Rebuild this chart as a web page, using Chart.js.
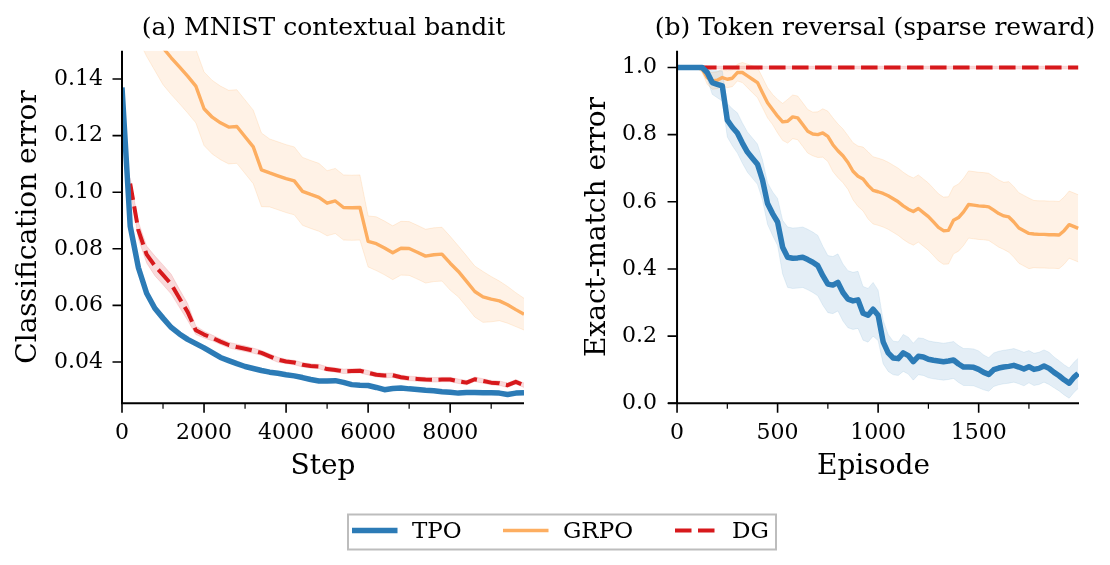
<!DOCTYPE html>
<html><head><meta charset="utf-8">
<script src="https://cdn.jsdelivr.net/npm/chart.js@4.4.1/dist/chart.umd.min.js"></script>
<style>
html,body{margin:0;padding:0;background:#fff;}
body{width:1110px;height:565px;position:relative;overflow:hidden;}
canvas{position:absolute;top:0;}
#cl{left:0;}
#cr{left:555px;}
svg{position:absolute;left:0;top:0;}
</style></head><body>
<canvas id="cl" width="560" height="500" style="width:560px;height:500px"></canvas>
<canvas id="cr" width="555" height="500" style="width:555px;height:500px"></canvas>
<svg width="1110" height="565" viewBox="0 0 1110 565">
  <rect x="348" y="514.5" width="428" height="35" fill="none" stroke="#bdbdbd" stroke-width="2"/>
  <line x1="352" y1="530.5" x2="397.5" y2="530.5" stroke="#2c7bb6" stroke-width="5.5"/>
  <text x="412" y="537.5" font-family="DejaVu Serif" font-size="23" fill="#000">TPO</text>
  <line x1="503" y1="530.5" x2="548.5" y2="530.5" stroke="#fdae61" stroke-width="3.5"/>
  <text x="563" y="537.5" font-family="DejaVu Serif" font-size="23" fill="#000">GRPO</text>
  <line x1="675" y1="530.5" x2="715" y2="530.5" stroke="#d7191c" stroke-width="4" stroke-dasharray="16.5 6.5"/>
  <text x="732" y="537.5" font-family="DejaVu Serif" font-size="23" fill="#000">DG</text>
</svg>
<script>
// ---------------- data: (a) MNIST contextual bandit ----------------
const leftSteps = [0,200,400,600,800,1000,1200,1400,1600,1800,
  2000,2200,2400,2600,2800,3000,3200,3400,3600,3800,
  4000,4200,4400,4600,4800,5000,5200,5400,5600,5800,
  6000,6200,6400,6600,6800,7000,7200,7400,7600,7800,
  8000,8200,8400,8600,8800,9000,9200,9400,9600,9800];
const leftTPO = [0.137,0.088,0.0733,0.0643,0.059,0.0555,0.0522,0.0499,0.048,0.0465,
  0.045,0.0433,0.0416,0.0405,0.0394,0.0384,0.0377,0.037,0.0364,0.036,
  0.0355,0.0351,0.0345,0.0338,0.0333,0.0333,0.0334,0.0328,0.032,0.0318,
  0.0317,0.031,0.0302,0.0306,0.0308,0.0305,0.0303,0.03,0.0298,0.0295,
  0.0293,0.029,0.0292,0.0292,0.0291,0.0291,0.029,0.0285,0.029,0.0291];
const leftTPOsd = [0.001,0.001,0.001,0.0008,0.0008,0.0007,0.0007,0.0007,0.0006,0.0006,
  0.0006,0.0006,0.0006,0.0006,0.0006,0.0006,0.0006,0.0006,0.0006,0.0006,
  0.0006,0.0006,0.0006,0.0006,0.0006,0.0006,0.0006,0.0006,0.0006,0.0006,
  0.0006,0.0006,0.0006,0.0006,0.0006,0.0006,0.0006,0.0006,0.0006,0.0006,
  0.0006,0.0006,0.0006,0.0006,0.0006,0.0006,0.0006,0.0006,0.0006,0.0006];
const leftGRPO = [0.178,0.173,0.167,0.161,0.156,0.151,0.1475,0.1443,0.141,0.1375,
  0.1295,0.1265,0.1245,0.123,0.1232,0.1196,0.116,0.1079,0.1068,0.1058,
  0.1048,0.104,0.1003,0.0992,0.0982,0.0961,0.0969,0.0946,0.0945,0.0946,
  0.0826,0.0818,0.0803,0.0786,0.0802,0.0801,0.0788,0.0774,0.0779,0.0781,
  0.0749,0.072,0.0685,0.0649,0.063,0.0622,0.0616,0.0602,0.0585,0.0569];
const leftGRPOsd = [0.013,0.013,0.013,0.013,0.013,0.013,0.013,0.013,0.013,0.013,
  0.013,0.013,0.013,0.013,0.013,0.013,0.013,0.013,0.012,0.012,
  0.012,0.012,0.012,0.012,0.012,0.0115,0.0115,0.0115,0.0115,0.0115,
  0.009,0.0095,0.0095,0.0095,0.0095,0.0095,0.0095,0.0095,0.0095,0.0095,
  0.0095,0.009,0.009,0.009,0.009,0.008,0.007,0.0065,0.006,0.0056];
const leftDG = [null,0.103,0.0865,0.078,0.074,0.0708,0.0675,0.0625,0.0577,0.0512,
  0.0497,0.0485,0.0472,0.046,0.0453,0.0447,0.044,0.0432,0.042,0.0408,
  0.0402,0.0398,0.039,0.0386,0.0384,0.0375,0.0372,0.0367,0.0368,0.0369,
  0.0362,0.0355,0.0352,0.0353,0.0346,0.0342,0.034,0.0338,0.0337,0.0338,
  0.0338,0.0332,0.0327,0.0339,0.0333,0.0327,0.0325,0.0318,0.033,0.0318];
const leftDGsd = [0,0.002,0.003,0.003,0.0035,0.0035,0.0035,0.0032,0.003,0.0015,
  0.0012,0.001,0.001,0.001,0.001,0.001,0.0009,0.0009,0.0009,0.0009,
  0.0008,0.0008,0.0008,0.0008,0.0008,0.0008,0.0008,0.0008,0.0008,0.0008,
  0.0008,0.0008,0.0008,0.0008,0.0008,0.0008,0.0008,0.0008,0.0008,0.0008,
  0.0008,0.0008,0.0008,0.0008,0.0008,0.0008,0.0008,0.0008,0.0008,0.0008];
const leftXTicks = [0,2000,4000,6000,8000];
const leftXTickLabels = ['0','2000','4000','6000','8000'];
const leftXMinor = [1000,3000,5000,7000,9000];
const leftYTicks = [0.04,0.06,0.08,0.10,0.12,0.14];
const leftYTickLabels = ['0.04','0.06','0.08','0.10','0.12','0.14'];

// ---------------- data: (b) Token reversal (sparse reward) ----------------
const rightEpisodes = [0,25,50,75,100,125,150,175,200,225,
  250,275,300,325,350,375,400,425,450,475,
  500,525,550,575,600,625,650,675,700,725,
  750,775,800,825,850,875,900,925,950,975,
  1000,1025,1050,1075,1100,1125,1150,1175,1200,1225,
  1250,1275,1300,1325,1350,1375,1400,1425,1450,1475,
  1500,1525,1550,1575,1600,1625,1650,1675,1700,1725,
  1750,1775,1800,1825,1850,1875,1900,1925,1950,1975,
  1995];
const rightTPO = [1.000,1.000,1.000,1.000,1.000,1.000,0.985,0.955,0.950,0.945,
  0.843,0.822,0.805,0.775,0.748,0.730,0.712,0.665,0.595,0.565,
  0.540,0.465,0.435,0.432,0.433,0.435,0.428,0.420,0.410,0.380,
  0.355,0.352,0.360,0.330,0.310,0.305,0.308,0.268,0.262,0.280,
  0.262,0.183,0.150,0.135,0.133,0.150,0.142,0.124,0.140,0.138,
  0.131,0.128,0.126,0.124,0.126,0.129,0.117,0.108,0.108,0.107,
  0.101,0.092,0.086,0.100,0.105,0.108,0.110,0.113,0.108,0.102,
  0.109,0.101,0.104,0.111,0.104,0.092,0.082,0.070,0.060,0.078,
  0.089];
const rightTPOsd = [0.003,0.003,0.003,0.003,0.003,0.005,0.020,0.035,0.040,0.045,
  0.050,0.055,0.060,0.060,0.060,0.060,0.060,0.060,0.062,0.065,
  0.070,0.080,0.090,0.090,0.090,0.090,0.090,0.090,0.090,0.088,
  0.085,0.085,0.085,0.085,0.085,0.085,0.085,0.080,0.080,0.080,
  0.075,0.065,0.055,0.050,0.050,0.055,0.055,0.055,0.055,0.055,
  0.055,0.055,0.055,0.055,0.055,0.055,0.055,0.055,0.055,0.055,
  0.055,0.052,0.050,0.050,0.050,0.050,0.050,0.050,0.050,0.050,
  0.048,0.048,0.048,0.048,0.048,0.046,0.045,0.045,0.045,0.045,
  0.045];
const rightGRPO = [1.000,1.000,1.000,1.000,1.000,0.995,0.970,0.960,0.962,0.970,
  0.965,0.968,0.985,0.985,0.975,0.965,0.955,0.925,0.895,0.875,
  0.855,0.838,0.840,0.853,0.850,0.830,0.810,0.802,0.800,0.805,
  0.795,0.770,0.752,0.737,0.717,0.691,0.676,0.668,0.649,0.634,
  0.630,0.625,0.618,0.609,0.600,0.588,0.578,0.571,0.580,0.568,
  0.556,0.540,0.524,0.514,0.515,0.545,0.553,0.570,0.592,0.590,
  0.588,0.587,0.585,0.575,0.565,0.558,0.555,0.540,0.522,0.514,
  0.506,0.504,0.503,0.503,0.502,0.502,0.501,0.514,0.532,0.526,
  0.521];
const rightGRPOsd = [0.003,0.003,0.003,0.003,0.003,0.010,0.020,0.025,0.025,0.025,
  0.025,0.025,0.025,0.030,0.035,0.040,0.045,0.045,0.045,0.045,
  0.050,0.055,0.065,0.065,0.065,0.065,0.065,0.065,0.068,0.072,
  0.075,0.080,0.080,0.080,0.080,0.085,0.090,0.095,0.100,0.100,
  0.100,0.100,0.100,0.100,0.100,0.100,0.100,0.100,0.100,0.100,
  0.100,0.100,0.100,0.100,0.100,0.100,0.100,0.100,0.100,0.100,
  0.100,0.100,0.100,0.100,0.100,0.100,0.105,0.105,0.105,0.105,
  0.105,0.100,0.100,0.100,0.100,0.100,0.100,0.100,0.100,0.100,
  0.100];
const rightDG = [1.000,1.000,1.000,1.000,1.000,1.000,1.000,1.000,1.000,1.000,
  1.000,1.000,1.000,1.000,1.000,1.000,1.000,1.000,1.000,1.000,
  1.000,1.000,1.000,1.000,1.000,1.000,1.000,1.000,1.000,1.000,
  1.000,1.000,1.000,1.000,1.000,1.000,1.000,1.000,1.000,1.000,
  1.000,1.000,1.000,1.000,1.000,1.000,1.000,1.000,1.000,1.000,
  1.000,1.000,1.000,1.000,1.000,1.000,1.000,1.000,1.000,1.000,
  1.000,1.000,1.000,1.000,1.000,1.000,1.000,1.000,1.000,1.000,
  1.000,1.000,1.000,1.000,1.000,1.000,1.000,1.000,1.000,1.000,
  1.000];
const rightDGsd = [0.004,0.004,0.004,0.004,0.004,0.004,0.004,0.004,0.004,0.004,
  0.004,0.004,0.004,0.004,0.004,0.004,0.004,0.004,0.004,0.004,
  0.004,0.004,0.004,0.004,0.004,0.004,0.004,0.004,0.004,0.004,
  0.004,0.004,0.004,0.004,0.004,0.004,0.004,0.004,0.004,0.004,
  0.004,0.004,0.004,0.004,0.004,0.004,0.004,0.004,0.004,0.004,
  0.004,0.004,0.004,0.004,0.004,0.004,0.004,0.004,0.004,0.004,
  0.004,0.004,0.004,0.004,0.004,0.004,0.004,0.004,0.004,0.004,
  0.004,0.004,0.004,0.004,0.004,0.004,0.004,0.004,0.004,0.004,
  0.004];
const rightXTicks = [0,500,1000,1500];
const rightXTickLabels = ['0','500','1000','1500'];
const rightXMinor = [250,750,1250,1750];
const rightYTicks = [0.0,0.2,0.4,0.6,0.8,1.0];
const rightYTickLabels = ['0.0','0.2','0.4','0.6','0.8','1.0'];

// ---------------- styling ----------------
const FONT = '"DejaVu Serif", serif';
Chart.defaults.font.family = FONT;
Chart.defaults.color = '#000';
const COL = {tpo:'#2c7bb6', grpo:'#fdae61', dg:'#d7191c'};
const BAND = {tpo:'rgba(44,123,182,0.13)', grpo:'rgba(253,174,97,0.16)', dg:'rgba(215,25,28,0.16)'};
const EDGE = {tpo:'rgba(44,123,182,0.10)', grpo:'rgba(253,174,97,0.20)', dg:'rgba(215,25,28,0.12)'};

function pts(xs, ys){ return xs.map((x,i)=>({x:x, y:ys[i]})); }
function bound(xs, m, s, sign){ return xs.map((x,i)=>({x:x, y:(m[i]==null?null:m[i]+sign*s[i])})); }

function datasets(xs, tpo, tpoSd, grpo, grpoSd, dg, dgSd){
  const line = (label, data, color, w, dash) => ({label, data, borderColor:color, borderWidth:w,
    borderDash:dash||[], pointRadius:0, fill:false, tension:0, borderJoinStyle:'round', borderCapStyle:'butt'});
  const up = (data, k) => ({data, fill:'+1', backgroundColor:BAND[k], borderColor:EDGE[k], borderWidth:1, pointRadius:0, tension:0});
  const lo = (data, k) => ({data, fill:false, borderColor:EDGE[k], borderWidth:1, pointRadius:0, tension:0});
  return [
    line('TPO', pts(xs,tpo), COL.tpo, 5.5),
    line('DG', pts(xs,dg), COL.dg, 4, [16.5,6.5]),
    line('GRPO', pts(xs,grpo), COL.grpo, 3.4),
    up(bound(xs,tpo,tpoSd,1),'tpo'), lo(bound(xs,tpo,tpoSd,-1),'tpo'),
    up(bound(xs,dg,dgSd,1),'dg'), lo(bound(xs,dg,dgSd,-1),'dg'),
    up(bound(xs,grpo,grpoSd,1),'grpo'), lo(bound(xs,grpo,grpoSd,-1),'grpo')
  ];
}

const mplAxes = {
  id:'mplAxes',
  afterDraw(chart, args, o){
    const {ctx, chartArea:a, scales:{x, y}} = chart;
    const sx = x.getPixelForValue(o.spineX);
    ctx.save();
    ctx.strokeStyle = '#000';
    ctx.lineCap = 'butt';
    ctx.lineWidth = 2;
    ctx.beginPath();
    ctx.moveTo(sx, a.top); ctx.lineTo(sx, a.bottom + 1);
    ctx.moveTo(a.left, a.bottom); ctx.lineTo(a.right, a.bottom);
    ctx.stroke();
    ctx.lineWidth = 1.6;
    ctx.beginPath();
    o.xMajor.forEach(v => { const p = x.getPixelForValue(v); ctx.moveTo(p, a.bottom); ctx.lineTo(p, a.bottom + 9.5); });
    o.yMajor.forEach(v => { const p = y.getPixelForValue(v); ctx.moveTo(sx, p); ctx.lineTo(sx - 9.5, p); });
    ctx.stroke();
    ctx.lineWidth = 1.2;
    ctx.beginPath();
    o.xMinor.forEach(v => { const p = x.getPixelForValue(v); ctx.moveTo(p, a.bottom); ctx.lineTo(p, a.bottom + 5.5); });
    ctx.stroke();
    ctx.fillStyle = '#000';
    ctx.font = '25px ' + FONT;
    ctx.textAlign = 'center';
    ctx.textBaseline = 'alphabetic';
    ctx.fillText(o.title, o.titleX, o.titleY);
    ctx.restore();
  }
};

function makeChart(id, c){
  return new Chart(document.getElementById(id), {
    type:'line',
    data:{datasets:c.datasets},
    options:{
      responsive:false, animation:false, events:[],
      layout:{padding:{top:50.7, right:c.padRight, left:0, bottom:0}},
      plugins:{legend:{display:false}, tooltip:{enabled:false},
        mplAxes:{spineX:c.spineX, xMajor:c.xTicks, xMinor:c.xMinor, yMajor:c.yTicks,
                 title:c.title, titleX:c.titleX, titleY:34.5}},
      scales:{
        x:{type:'linear', min:c.xMin, max:c.xMax,
           grid:{display:false, drawTicks:false}, border:{display:false},
           afterBuildTicks:s=>{ s.ticks = c.xTicks.map(v=>({value:v})); },
           afterFit:s=>{ s.height = 96.7; s.paddingLeft = 0; s.paddingRight = 0; },
           ticks:{font:{size:22}, padding:17, maxRotation:0, autoSkip:false, callback:(v,i)=>c.xLabels[i]},
           title:{display:true, text:c.xTitle, font:{size:28}, padding:{top:0, bottom:16.9}}},
        y:{type:'linear', min:c.yMin, max:c.yMax,
           grid:{display:false, drawTicks:false}, border:{display:false},
           afterBuildTicks:s=>{ s.ticks = c.yTicks.map(v=>({value:v})); },
           afterFit:s=>{ s.width = c.yWidth; s.paddingTop = 0; s.paddingBottom = 0; },
           ticks:{font:{size:22}, padding:c.yTickPad, autoSkip:false, callback:(v,i)=>c.yLabels[i]},
           title:{display:true, text:c.yTitle, font:{size:28}, padding:{top:c.yTitlePad, bottom:0}}}
      }
    },
    plugins:[mplAxes]
  });
}

makeChart('cl', {
  datasets: datasets(leftSteps, leftTPO, leftTPOsd, leftGRPO, leftGRPOsd, leftDG, leftDGsd),
  padRight:36, spineX:0, xMin:0, xMax:9800, yMin:0.0254, yMax:0.150,
  xTicks:leftXTicks, xLabels:leftXTickLabels, xMinor:leftXMinor,
  yTicks:leftYTicks, yLabels:leftYTickLabels,
  yWidth:122, yTickPad:19, yTitlePad:12.2,
  xTitle:'Step', yTitle:'Classification error',
  title:'(a) MNIST contextual bandit', titleX:323.5
});

makeChart('cr', {
  datasets: datasets(rightEpisodes, rightTPO, rightTPOsd, rightGRPO, rightGRPOsd, rightDG, rightDGsd),
  padRight:31, spineX:0, xMin:-45, xMax:1999, yMin:0, yMax:1.05,
  xTicks:rightXTicks, xLabels:rightXTickLabels, xMinor:rightXMinor,
  yTicks:rightYTicks, yLabels:rightYTickLabels,
  yWidth:113, yTickPad:11, yTitlePad:26.2,
  xTitle:'Episode', yTitle:'Exact-match error',
  title:'(b) Token reversal (sparse reward)', titleX:320
});
</script>
</body></html>
